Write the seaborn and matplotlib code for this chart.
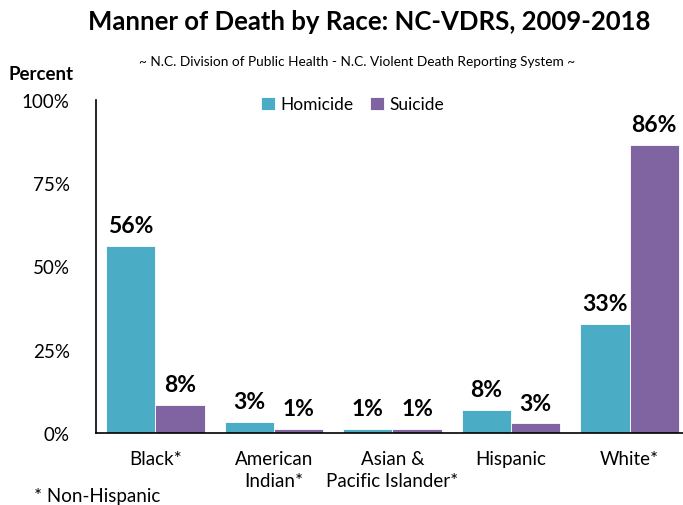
import pandas as pd
import matplotlib
matplotlib.use("Agg")
import matplotlib.pyplot as plt
import seaborn as sns

# data
races = ["Black*", "American\nIndian*", "Asian &\nPacific Islander*", "Hispanic", "White*"]
homicide = [56.2, 3.3, 1.2, 6.9, 32.7]
suicide = [8.4, 1.2, 1.2, 2.9, 86.5]
homicide_labels = ["56%", "3%", "1%", "8%", "33%"]
suicide_labels = ["8%", "1%", "1%", "3%", "86%"]
y_ticks = [0, 25, 50, 75, 100]

df = pd.DataFrame({
    "Race": races * 2,
    "Manner": ["Homicide"] * len(races) + ["Suicide"] * len(races),
    "Percent": homicide + suicide,
})

sns.set_style("white")
plt.rcParams["font.family"] = ["Lato", "DejaVu Sans"]
plt.rcParams["text.color"] = "black"
plt.rcParams["xtick.color"] = "black"
plt.rcParams["ytick.color"] = "black"

fig = plt.figure(figsize=(6.83, 5.06), dpi=100)
ax = fig.add_axes([0.1406, 0.1423, 0.8594, 0.6581])

sns.barplot(data=df, x="Race", y="Percent", hue="Manner", order=races,
            palette={"Homicide": "#4BACC6", "Suicide": "#8064A2"},
            width=0.83, saturation=1, edgecolor="white", linewidth=0.6, ax=ax)

# value labels above the bars
for cont, labels in zip(ax.containers, [homicide_labels, suicide_labels]):
    ax.bar_label(cont, labels=labels, padding=7, fontsize=16.5, fontweight="bold")

ax.set_ylim(0, 100)
ax.set_xlim(-0.5, 4.45)
ax.set_yticks(y_ticks)
ax.set_yticklabels([f"{t}%" for t in y_ticks], fontsize=13.5)
ax.tick_params(axis="x", length=0, labelsize=13.5, pad=12)
ax.tick_params(axis="y", length=0, pad=19)
for lab in ax.get_xticklabels():
    lab.set_linespacing(1.35)
ax.set_xlabel("")
ax.set_ylabel("")
for side in ["top", "right"]:
    ax.spines[side].set_visible(False)
ax.spines["left"].set_color("black")
ax.spines["bottom"].set_color("black")
ax.spines["left"].set_linewidth(1.2)
ax.spines["bottom"].set_linewidth(1.2)

ax.legend(loc="upper center", bbox_to_anchor=(0.437, 1.058), ncol=2, frameon=False,
          fontsize=12.5, handlelength=0.8, handleheight=0.8, handletextpad=0.3,
          columnspacing=1.0)

fig.text(0.54, 0.957, "Manner of Death by Race: NC-VDRS, 2009-2018",
         ha="center", va="center", fontsize=18.5, fontweight="bold")
fig.text(0.523, 0.877, "~ N.C. Division of Public Health - N.C. Violent Death Reporting System ~",
         ha="center", va="center", fontsize=9.8)
fig.text(0.012, 0.853, "Percent", ha="left", va="center", fontsize=13.5, fontweight="bold")
fig.text(0.05, 0.018, "* Non-Hispanic", ha="left", va="center", fontsize=13.5)

fig.savefig("out.png", dpi=100)
